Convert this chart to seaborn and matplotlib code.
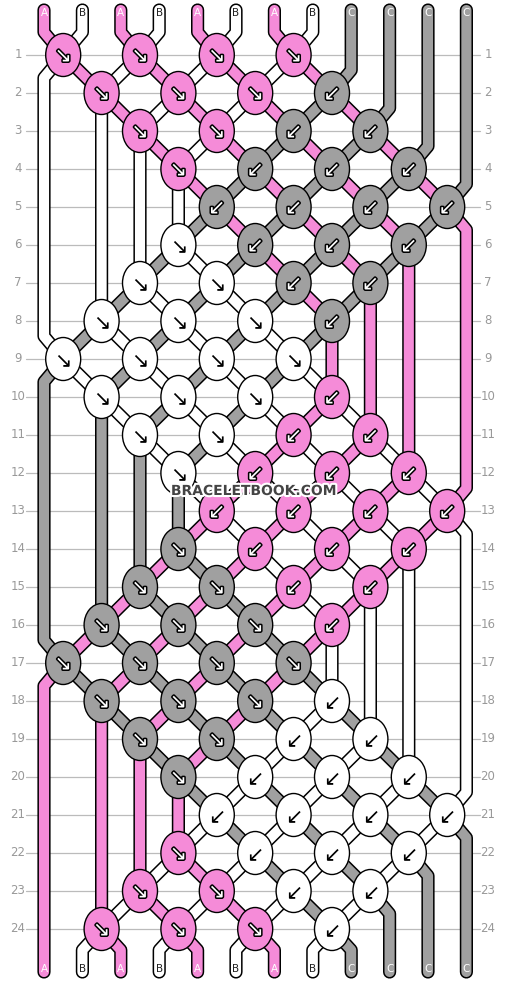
import numpy as np
import pandas as pd
import matplotlib
matplotlib.use("Agg")
import matplotlib.pyplot as plt
import matplotlib.patheffects as pe
from matplotlib.patches import Ellipse
import seaborn as sns

# string setup (top, left to right)
string_letters = ["A", "B", "A", "B", "A", "B", "A", "B", "C", "C", "C", "C"]
letter_colors = {"A": "#f58bd8", "B": "#ffffff", "C": "#a0a0a0"}

# knots per row: (knot slot k between strings k and k+1, direction) ; F = forward ↘, B = backward ↙
rows_knots = [
    [(0, "F"), (2, "F"), (4, "F"), (6, "F")],
    [(1, "F"), (3, "F"), (5, "F"), (7, "B")],
    [(2, "F"), (4, "F"), (6, "B"), (8, "B")],
    [(3, "F"), (5, "B"), (7, "B"), (9, "B")],
    [(4, "B"), (6, "B"), (8, "B"), (10, "B")],
    [(3, "F"), (5, "B"), (7, "B"), (9, "B")],
    [(2, "F"), (4, "F"), (6, "B"), (8, "B")],
    [(1, "F"), (3, "F"), (5, "F"), (7, "B")],
    [(0, "F"), (2, "F"), (4, "F"), (6, "F")],
    [(1, "F"), (3, "F"), (5, "F"), (7, "B")],
    [(2, "F"), (4, "F"), (6, "B"), (8, "B")],
    [(3, "F"), (5, "B"), (7, "B"), (9, "B")],
    [(4, "B"), (6, "B"), (8, "B"), (10, "B")],
    [(3, "F"), (5, "B"), (7, "B"), (9, "B")],
    [(2, "F"), (4, "F"), (6, "B"), (8, "B")],
    [(1, "F"), (3, "F"), (5, "F"), (7, "B")],
    [(0, "F"), (2, "F"), (4, "F"), (6, "F")],
    [(1, "F"), (3, "F"), (5, "F"), (7, "B")],
    [(2, "F"), (4, "F"), (6, "B"), (8, "B")],
    [(3, "F"), (5, "B"), (7, "B"), (9, "B")],
    [(4, "B"), (6, "B"), (8, "B"), (10, "B")],
    [(3, "F"), (5, "B"), (7, "B"), (9, "B")],
    [(2, "F"), (4, "F"), (6, "B"), (8, "B")],
    [(1, "F"), (3, "F"), (5, "F"), (7, "B")],
]
row_labels = [str(i) for i in range(1, 25)]

# geometry (pixels)
W, H = 506, 984
X0, DX = 44, 38.4
Y0, DY = 55, 38
TOP, BOT = 10, 972
sx = lambda p: X0 + p * DX
kx = lambda k: X0 + (k + 0.5) * DX
ry = lambda r: Y0 + r * DY

# simulate threads
order = list(range(12))
paths = {t: [] for t in range(12)}  # (x, y, position before knot)
knots = []
for r, row in enumerate(rows_knots):
    for k, d in row:
        lt, rt = order[k], order[k + 1]
        col = string_letters[lt] if d == "F" else string_letters[rt]
        knots.append(dict(x=kx(k), y=ry(r), letter=col, d=d))
        paths[lt].append((kx(k), ry(r), k, k + 1))
        paths[rt].append((kx(k), ry(r), k + 1, k))
        order[k], order[k + 1] = rt, lt
end_pos = {t: p for p, t in enumerate(order)}

sns.set_theme(style="white")
fig = plt.figure(figsize=(W / 100, H / 100), dpi=100)
ax = fig.add_axes([0, 0, 1, 1])
ax.set_xlim(0, W)
ax.set_ylim(H, 0)
ax.axis("off")

for r, lab in enumerate(row_labels):
    ax.plot([26, 480], [ry(r), ry(r)], color="#bbbbbb", lw=0.9, zorder=0)
    ax.text(18, ry(r), lab, color="#999999", fontsize=8.5, ha="center", va="center")
    ax.text(488, ry(r), lab, color="#999999", fontsize=8.5, ha="center", va="center")

for t in range(12):
    pts = paths[t]
    xs0, xs1 = sx(t), sx(end_pos[t])
    full = [(xs0, TOP), (xs0, max(30, pts[0][1] - 0.6 * DY))]
    for i, (x, y, pin, pout) in enumerate(pts):
        if i > 0:
            px, py, _, ppos = pts[i - 1]
            if y - py > 1.5 * DY and ppos in (0, 11):
                full += [(sx(ppos), py + 0.6 * DY), (sx(ppos), y - 0.6 * DY)]
        full.append((x, y))
    full += [(xs1, min(950, pts[-1][1] + 0.6 * DY)), (xs1, BOT)]
    xs, ys = zip(*full)
    c = letter_colors[string_letters[t]]
    ax.plot(xs, ys, color="black", lw=9.5, solid_capstyle="round", solid_joinstyle="round", zorder=1)
    ax.plot(xs, ys, color=c, lw=7.3, solid_capstyle="round", solid_joinstyle="round", zorder=1.1)
    tc = "#222222" if string_letters[t] == "B" else "white"
    ax.text(xs0, 13, string_letters[t], fontsize=7.5, color=tc, ha="center", va="center", zorder=1.2)
    ax.text(xs1, 969, string_letters[t], fontsize=7.5, color=tc, ha="center", va="center", zorder=1.2)

# knots
kdf = pd.DataFrame(knots)
for _, kn in kdf.iterrows():
    ax.add_patch(Ellipse((kn["x"], kn["y"]), 35, 43, facecolor=letter_colors[kn["letter"]],
                         edgecolor="black", lw=1.0, zorder=3))
    arrow = "↘" if kn["d"] == "F" else "↙"
    if kn["letter"] == "B":
        ax.text(kn["x"], kn["y"] + 1, arrow, fontsize=15, color="black",
                ha="center", va="center", zorder=4)
    else:
        ax.text(kn["x"], kn["y"] + 1, arrow, fontsize=15, color="white",
                ha="center", va="center", zorder=4,
                path_effects=[pe.withStroke(linewidth=2.2, foreground="black")])

ax.text(W / 2 + 1, 491, "BRACELETBOOK.COM", fontsize=10, fontweight="bold", color="#444444",
        ha="center", va="center", zorder=5,
        path_effects=[pe.withStroke(linewidth=3, foreground="white")])

fig.savefig("out.png", dpi=100)
